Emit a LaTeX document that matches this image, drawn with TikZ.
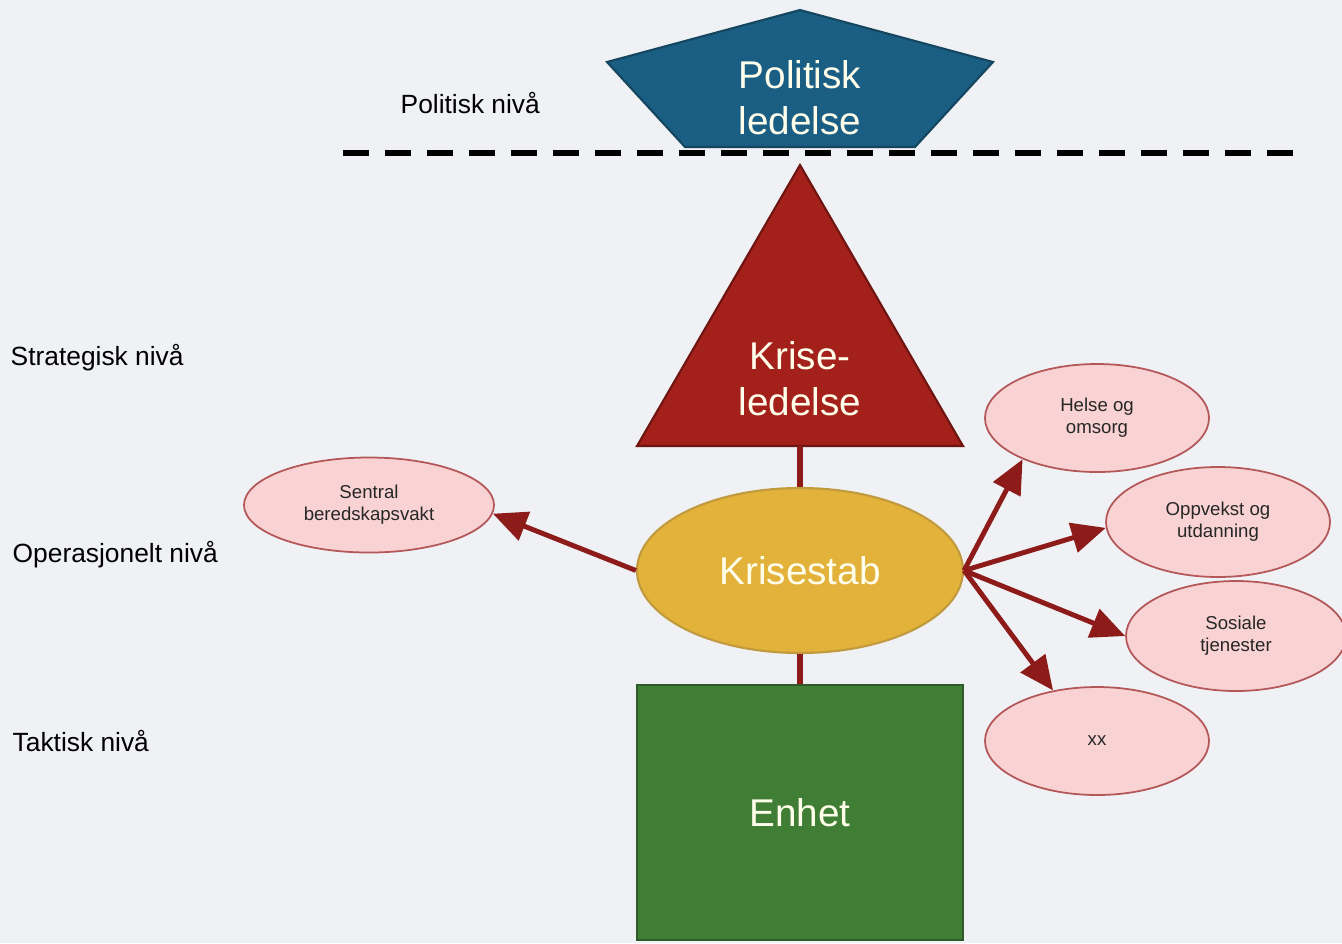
\documentclass[tikz,border=0pt]{standalone}
\usepackage{fontspec}
\setmainfont{Liberation Sans}
\usetikzlibrary{arrows.meta,shapes.geometric}
\definecolor{bgcol}{HTML}{EFF1F5}
\definecolor{polblue}{HTML}{1B5E84}
\definecolor{polline}{HTML}{15465F}
\definecolor{krred}{HTML}{A3201B}
\definecolor{krline}{HTML}{6E1411}
\definecolor{stabfill}{HTML}{E2B23B}
\definecolor{stabline}{HTML}{C29A3E}
\definecolor{enhfill}{HTML}{3F7E34}
\definecolor{enhline}{HTML}{2D5A28}
\definecolor{pinkfill}{HTML}{F9D3D3}
\definecolor{pinkline}{HTML}{B45758}
\definecolor{arrowcol}{HTML}{8C1B19}

\begin{document}
\begin{tikzpicture}[
    big/.style={text=white!92!yellow, font=\fontsize{11}{13}\selectfont, align=center},
    level/.style={font=\fontsize{7.5}{9}\selectfont, anchor=west, inner sep=0pt},
    unit/.style={ellipse, draw=pinkline, fill=pinkfill, line width=0.5pt, inner sep=0pt,
        minimum width=2.24cm, minimum height=1.08cm, text=black!85,
        font=\fontsize{5.3}{6.2}\selectfont, align=center},
    link/.style={draw=arrowcol, line width=1.5pt},
    pil/.style={draw=arrowcol, line width=1.4pt, -{Triangle[length=0.34cm,width=0.3cm]}}]
    \fill[bgcol] (0,0) rectangle (13.42,-9.43);
    \useasboundingbox (0,0) rectangle (13.42,-9.43);

    \draw[black, line width=0.06cm, dash pattern=on 0.26cm off 0.16cm] (3.43,-1.53) -- (13.02,-1.53);

    \filldraw[fill=polblue, draw=polline, line width=0.6pt] (8,-0.1) -- (9.93,-0.62) -- (9.15,-1.47)
    -- (6.85,-1.47) -- (6.07,-0.62) -- cycle;
    \node[big] (politisk) at (8,-0.98) {Politisk\\ledelse};

    \filldraw[fill=krred, draw=krline, line width=0.6pt] (8,-1.65) -- (9.63,-4.46) -- (6.37,-4.46) -- cycle;
    \node[big] (krise) at (8,-3.79) {Krise-\\ledelse};
    \coordinate (kbase) at (8,-4.46);

    \node[big, ellipse, fill=stabfill, draw=stabline, line width=0.6pt,
        minimum width=3.26cm, minimum height=1.65cm] (stab) at (8,-5.705) {Krisestab};
    \node[big, rectangle, fill=enhfill, draw=enhline, line width=0.6pt,
        minimum width=3.26cm, minimum height=2.55cm] (enhet) at (8,-8.125) {Enhet};

    \draw[link] (kbase) -- (stab.north);
    \draw[link] (stab.south) -- (enhet.north);

    \node[unit, minimum width=2.5cm, minimum height=0.95cm] (sentral) at (3.69,-5.05) {Sentral\\beredskapsvakt};
    \node[unit] (helse) at (10.97,-4.18) {Helse og\\omsorg};
    \node[unit, minimum height=1.1cm] (oppvekst) at (12.18,-5.22) {Oppvekst og\\utdanning};
    \node[unit, minimum width=2.2cm, minimum height=1.1cm] (sosiale) at (12.36,-6.36) {Sosiale\\tjenester};
    \node[unit] (xx) at (10.97,-7.41) {xx};

    \draw[pil] (stab.west) -- (sentral.-4);
    \draw[pil] (stab.east) -- (helse.209);
    \draw[pil] (stab.east) -- (oppvekst.183);
    \draw[pil] (stab.east) -- (sosiale.west);
    \draw[pil] (stab.east) -- (xx.131);

    \node[level] (polniva) at (4.0,-1.03) {Politisk nivå};
    \node[level] (strniva) at (0.10,-3.58) {Strategisk nivå};
    \node[level] (opniva) at (0.12,-5.55) {Operasjonelt nivå};
    \node[level] (takniva) at (0.12,-7.41) {Taktisk nivå};
  \end{tikzpicture}
\end{document}
